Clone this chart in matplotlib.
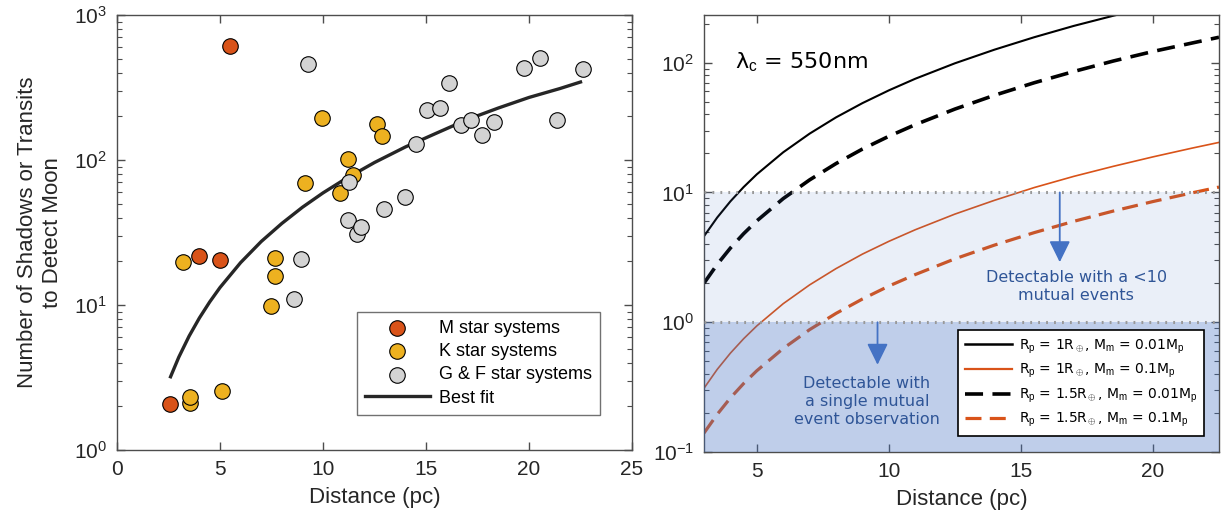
import matplotlib
matplotlib.use("Agg")
import matplotlib.pyplot as plt
from matplotlib.lines import Line2D

# ---------------- Left panel data ----------------
m_dist = [5.47, 4.0, 4.99, 2.58]
m_num = [612, 21.7, 20.3, 2.07]

k_dist = [3.22, 3.52, 3.53, 5.1, 7.67, 7.67, 7.47, 9.14, 9.97, 10.84, 11.19, 11.44, 12.6, 12.86]
k_num = [19.9, 2.10, 2.33, 2.54, 21.0, 15.9, 9.9, 69, 196, 59, 102, 79, 177, 146]

gf_dist = [8.95, 8.58, 9.28, 11.26, 11.19, 11.64, 11.86, 12.98, 14.0, 14.53, 15.07, 15.69,
           16.1, 16.72, 17.2, 17.7, 18.3, 19.75, 20.55, 21.34, 22.6]
gf_num = [20.7, 11.0, 462, 71, 38.5, 31.1, 34.3, 46, 55.7, 128, 221, 229,
          338, 173, 190, 149, 182, 431, 506, 190, 427]

fit_dist = [2.6, 3, 3.5, 4, 4.5, 5, 6, 7, 8, 9, 10, 11, 12.5, 14, 15.5, 17, 18.5, 20, 21.5, 22.5]
fit_num = [3.2, 4.37, 6.1, 8.14, 10.5, 13.2, 19.6, 27.4, 36.5, 47.2, 59.3, 72.8, 96.1, 123,
           153, 190, 228, 270, 311, 345]

# ---------------- Right panel data ----------------
r_dist = [3, 3.5, 4, 4.5, 5, 6, 7, 8, 9, 10, 11, 12.5, 14, 15.5, 17, 18.5, 20, 21.5, 22.5]
n_r1_m001 = [4.6, 6.41, 8.54, 11.0, 13.8, 20.4, 28.4, 37.9, 48.8, 61.2, 75.2, 98.9, 126,
             157, 192, 230, 272, 317, 350]
n_r1_m01 = [0.31, 0.433, 0.578, 0.746, 0.937, 1.39, 1.94, 2.59, 3.35, 4.20, 5.16, 6.81,
            8.70, 10.9, 13.3, 15.9, 18.8, 22.0, 24.3]
n_r15_m001 = [2.0, 2.79, 3.73, 4.81, 6.04, 8.97, 12.5, 16.7, 21.6, 27.1, 33.3, 43.9, 56.1,
              70.0, 85.5, 103, 122, 142, 157]
n_r15_m01 = [0.14, 0.195, 0.261, 0.337, 0.423, 0.628, 0.877, 1.17, 1.51, 1.90, 2.33, 3.08,
             3.93, 4.90, 5.99, 7.19, 8.51, 9.95, 11.0]

RED = '#D95319'
YEL = '#EDB120'
GRY = '#D3D3D3'
BLUE = '#4472C4'
AXC = '#4d4d4d'

fig = plt.figure(figsize=(12.25, 5.2), dpi=100)
plt.rcParams['font.family'] = ['Liberation Sans', 'DejaVu Sans']
plt.rcParams['mathtext.fontset'] = 'custom'
plt.rcParams['mathtext.rm'] = 'Liberation Sans'
plt.rcParams['mathtext.it'] = 'Liberation Sans:italic'


def style_axes(ax):
    for s in ax.spines.values():
        s.set_color(AXC)
        s.set_linewidth(1.0)
    ax.tick_params(which='both', direction='in', top=True, right=True, colors=AXC,
                   labelcolor='#262626', labelsize=15)
    ax.tick_params(which='major', length=6, width=1.0, pad=7)
    ax.tick_params(which='minor', length=3.5, width=0.8)
    ax.tick_params(axis='x', which='minor', bottom=False, top=False)


# ---------------- Left panel ----------------
ax1 = fig.add_axes([117 / 1225, 1 - 450 / 520, 515 / 1225, 435 / 520])
ax1.set_yscale('log')
ax1.set_xlim(0, 25)
ax1.set_ylim(1, 1000)
ax1.set_xticks([0, 5, 10, 15, 20, 25])
style_axes(ax1)

ax1.plot(fit_dist, fit_num, color='#262626', lw=2.4, zorder=2, label='Best fit',
         solid_joinstyle='round')
ms = 125
ax1.scatter(m_dist, m_num, s=ms, c=RED, edgecolors='black', linewidths=0.8, zorder=3,
            label='M star systems')
ax1.scatter(k_dist, k_num, s=ms, c=YEL, edgecolors='black', linewidths=0.8, zorder=3,
            label='K star systems')
ax1.scatter(gf_dist, gf_num, s=ms, c=GRY, edgecolors='black', linewidths=0.8, zorder=3,
            label='G & F star systems')

h, l = ax1.get_legend_handles_labels()
order = [1, 2, 3, 0]
leg1 = ax1.legend([h[i] for i in order], [l[i] for i in order], loc='lower right',
                  bbox_to_anchor=(0.955, 0.06), fontsize=13, frameon=True, fancybox=False,
                  edgecolor=AXC, handlelength=3.6, handletextpad=0.5, labelspacing=0.35,
                  borderpad=0.45, scatterpoints=1)
leg1.get_frame().set_linewidth(1.0)

ax1.set_xlabel('Distance (pc)', fontsize=16, color='#262626', labelpad=6)
ax1.set_ylabel('Number of Shadows or Transits\nto Detect Moon', fontsize=16,
               color='#262626', labelpad=8, linespacing=1.25)

# ---------------- Right panel ----------------
ax2 = fig.add_axes([704 / 1225, 1 - 452 / 520, 515 / 1225, 437 / 520])
ax2.set_yscale('log')
ax2.set_xlim(3, 22.5)
ax2.set_ylim(0.1, 233)
ax2.set_xticks([5, 10, 15, 20])
style_axes(ax2)

ax2.plot(r_dist, n_r1_m001, color='black', lw=1.5, zorder=2)
ax2.plot(r_dist, n_r1_m01, color=RED, lw=1.2, zorder=2)
ax2.plot(r_dist, n_r15_m001, color='black', lw=2.6, ls=(0, (5, 2.6)), zorder=2)
ax2.plot(r_dist, n_r15_m01, color=RED, lw=2.3, ls=(0, (5, 2.6)), zorder=2)

ax2.axhspan(1, 10, color=BLUE, alpha=0.11, lw=0, zorder=3)
ax2.axhspan(0.1, 1, color=BLUE, alpha=0.34, lw=0, zorder=3)
ax2.axhline(10, color='#999999', lw=2.2, ls=(0, (0.6, 2.0)), zorder=4)
ax2.axhline(1, color='#999999', lw=2.2, ls=(0, (0.6, 2.0)), zorder=4)

ax2.annotate('', xy=(16.47, 2.9), xytext=(16.47, 10),
             arrowprops=dict(arrowstyle='-|>,head_length=0.65,head_width=0.32',
                             mutation_scale=20, color=BLUE, lw=1.3, shrinkA=0, shrinkB=0),
             zorder=6)
ax2.annotate('', xy=(9.57, 0.47), xytext=(9.57, 1),
             arrowprops=dict(arrowstyle='-|>,head_length=0.65,head_width=0.32',
                             mutation_scale=20, color=BLUE, lw=1.3, shrinkA=0, shrinkB=0),
             zorder=6)

txtc = '#2F5597'
ax2.text(17.1, 1.87, 'Detectable with a <10\nmutual events', ha='center', va='center',
         fontsize=11.5, color=txtc, family='DejaVu Sans', linespacing=1.25, zorder=6)
ax2.text(9.17, 0.245, 'Detectable with\na single mutual\nevent observation', ha='center',
         va='center', fontsize=11.5, color=txtc, family='DejaVu Sans', linespacing=1.25,
         zorder=6)
ax2.text(4.18, 100, r'λ$_{\rm c}$ = 550nm', ha='left', va='center', fontsize=16,
         color='black', family='DejaVu Sans', zorder=6)

handles2 = [Line2D([], [], color='black', lw=1.8),
            Line2D([], [], color=RED, lw=1.6),
            Line2D([], [], color='black', lw=2.6, ls=(0, (5, 2.6))),
            Line2D([], [], color=RED, lw=2.3, ls=(0, (5, 2.6)))]
labels2 = [r'R$_{\rm p}$ = 1R$_\oplus$, M$_{\rm m}$ = 0.01M$_{\rm p}$',
           r'R$_{\rm p}$ = 1R$_\oplus$, M$_{\rm m}$ = 0.1M$_{\rm p}$',
           r'R$_{\rm p}$ = 1.5R$_\oplus$, M$_{\rm m}$ = 0.01M$_{\rm p}$',
           r'R$_{\rm p}$ = 1.5R$_\oplus$, M$_{\rm m}$ = 0.1M$_{\rm p}$']
leg2 = ax2.legend(handles2, labels2, loc='lower right', bbox_to_anchor=(0.985, 0.02),
                  prop={'family': 'DejaVu Sans', 'size': 10}, frameon=True, fancybox=False,
                  edgecolor='black', framealpha=1, handlelength=3.4, handletextpad=0.5,
                  labelspacing=0.45, borderpad=0.5)
leg2.get_frame().set_linewidth(1.2)
leg2.set_zorder(7)

ax2.set_xlabel('Distance (pc)', fontsize=16, color='#262626', labelpad=6)

fig.savefig('out.png', dpi=100)
